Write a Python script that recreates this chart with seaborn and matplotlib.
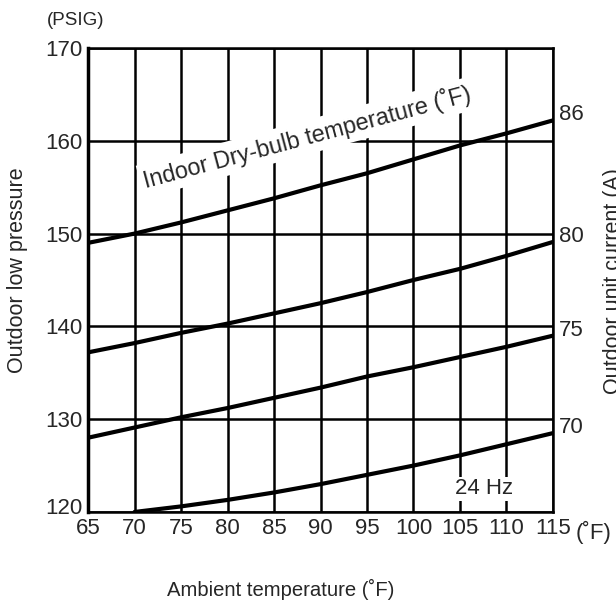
# outdoor low pressure vs ambient temperature, 24 Hz cooling chart
import seaborn as sns
from matplotlib import pyplot as plt
from matplotlib import transforms
import pandas as pd

ambient = [65, 70, 75, 80, 85, 90, 95, 100, 105, 110, 115]
indoor_db = [86, 80, 75, 70]
pressure_86 = [149.0, 150.0, 151.2, 152.5, 153.8, 155.2, 156.5, 158.0, 159.5, 160.8, 162.2]
pressure_80 = [137.2, 138.2, 139.3, 140.3, 141.4, 142.5, 143.7, 145.0, 146.2, 147.6, 149.1]
pressure_75 = [128.0, 129.1, 130.2, 131.2, 132.3, 133.4, 134.6, 135.6, 136.7, 137.8, 139.0]
pressure_70 = [None, 120.0, 120.6, 121.3, 122.1, 123.0, 124.0, 125.0, 126.1, 127.3, 128.5]
x_ticks = [65, 70, 75, 80, 85, 90, 95, 100, 105, 110, 115]
y_ticks = [120, 130, 140, 150, 160, 170]

rows = []
for db, series in zip(indoor_db, [pressure_86, pressure_80, pressure_75, pressure_70]):
    for t, p in zip(ambient, series):
        if p is not None:
            rows.append({'ambient': t, 'pressure': p, 'indoor': str(db)})
df = pd.DataFrame(rows)

sns.set_style("white")
plt.rcParams['font.family'] = ['Liberation Sans', 'DejaVu Sans']

fig = plt.figure(figsize=(6.16, 6.10), dpi=100)
ax = fig.add_axes([0.1429, 0.1607, 0.7548, 0.7606])

# grid lines under the curves
for x in x_ticks:
    ax.axvline(x, color='black', lw=1.8, zorder=1)
for y in y_ticks:
    ax.axhline(y, color='black', lw=1.8, zorder=1)

sns.lineplot(data=df, x='ambient', y='pressure', units='indoor', estimator=None,
             color='black', lw=3, ax=ax, zorder=3)

ax.set_xlim(65, 115)
ax.set_ylim(120, 170)
ax.set_xticks(x_ticks)
ax.set_yticks(y_ticks)
ax.tick_params(axis='x', length=0, labelsize=16, pad=4.5)
ax.tick_params(axis='y', length=0, labelsize=16, pad=4)
ax.set_xlabel('')
ax.set_ylabel('')
for s in ax.spines.values():
    s.set_color('black')
    s.set_linewidth(1.8)
ax.spines['left'].set_linewidth(2.5)

# nudge the 120 label up so it clears the x labels
lbl = ax.get_yticklabels()[0]
lbl.set_transform(lbl.get_transform() + transforms.ScaledTranslation(0, 6 / 100, fig.dpi_scale_trans))

# curve labels on the right edge
for db, series in zip(indoor_db, [pressure_86, pressure_80, pressure_75, pressure_70]):
    ax.text(115.6, series[-1] + 0.6, str(db), fontsize=16, va='center', ha='left', clip_on=False)

ax.text(88.6, 160.4, 'Indoor Dry-bulb temperature (\u02daF)', fontsize=16.8, rotation=15,
        ha='center', va='center', zorder=4, rotation_mode='anchor',
        bbox=dict(facecolor='white', edgecolor='none', pad=3))
ax.text(107.6, 122.5, '24 Hz', fontsize=16, ha='center', va='center', zorder=4,
        bbox=dict(facecolor='white', edgecolor='none', pad=1))

fig.text(0.122, 0.967, '(PSIG)', fontsize=13.5, ha='center', va='center')
fig.text(0.028, 0.557, 'Outdoor low pressure', fontsize=15.5, rotation=90, ha='center', va='center')
fig.text(0.979, 0.54, 'Outdoor unit current (A)', fontsize=15.5, rotation=90, ha='left', va='center')
fig.text(0.963, 0.127, '(\u02daF)', fontsize=16, ha='center', va='center')
fig.text(0.456, 0.033, 'Ambient temperature (\u02daF)', fontsize=14.6, ha='center', va='center')

fig.savefig('out.png', dpi=100)
